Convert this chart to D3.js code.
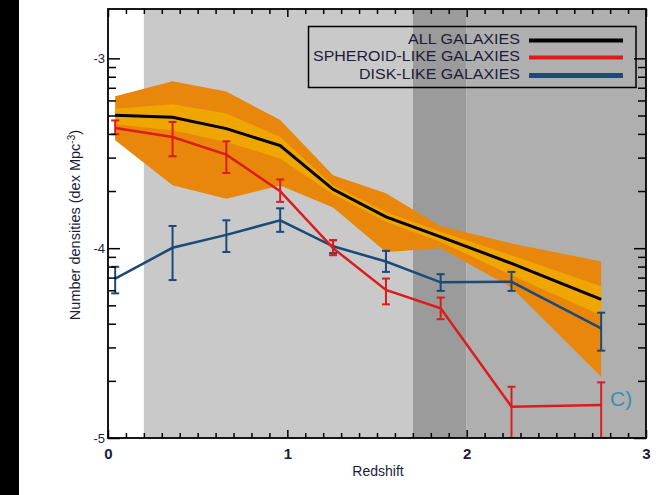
<!DOCTYPE html>
<html><head><meta charset="utf-8">
<script src="https://cdn.jsdelivr.net/npm/d3@7"></script>
<style>body{margin:0;background:#fff}svg{display:block}text{font-family:"Liberation Sans",Arial,sans-serif}</style>
</head><body>
<svg id="c" width="665" height="495"></svg>
<script>
const redshift = [0.04, 0.36, 0.66, 0.96, 1.255, 1.55, 1.855, 2.25, 2.75];
const allGal   = [-3.30, -3.31, -3.37, -3.46, -3.69, -3.835, -3.94, -4.08, -4.27];
const outerHi  = [-3.20, -3.12, -3.175, -3.325, -3.616, -3.71, -3.885, -3.975, -4.07];
const innerHi  = [-3.265, -3.242, -3.29, -3.414, -3.668, -3.809, -3.914, -4.037, -4.20];
const innerLo  = [-3.347, -3.379, -3.44, -3.528, -3.716, -3.861, -3.967, -4.142, -4.353];
const outerLo  = [-3.432, -3.668, -3.739, -3.67, -3.786, -4.02, -4.0, -4.207, -4.677];
const sphVal   = [-3.367, -3.414, -3.507, -3.70, -4.00, -4.22, -4.317, -4.835, -4.826];
const sphHi    = [-3.327, -3.335, -3.437, -3.638, -3.958, -4.16, -4.26, -4.73, -4.707];
const sphLo    = [-3.40, -3.516, -3.604, -3.756, -4.037, -4.296, -4.374, -5.0, -5.0];
const diskVal  = [-4.16, -3.998, -3.93, -3.853, -3.99, -4.07, -4.18, -4.177, -4.423];
const diskHi   = [-4.098, -3.883, -3.853, -3.79, -3.958, -4.014, -4.137, -4.125, -4.34];
const diskLo   = [-4.238, -4.168, -4.02, -3.914, -4.026, -4.125, -4.225, -4.225, -4.54];
const regionEdges = [0, 0.2, 1.7, 2.0, 3.0];
const regionColors = ["#ffffff", "#c9c9c9", "#9b9b9b", "#afafaf"];
const xMajor = [0, 1, 2, 3];
const yMajor = [-5, -4, -3];
const legendLabels = ["ALL GALAXIES", "SPHEROID-LIKE GALAXIES", "DISK-LIKE GALAXIES"];
const legendWidths = [112, 207, 161];
const seriesColors = ["#000000", "#dc1c1c", "#1b4a78"];

const svg = d3.select("#c");
const L = 108, R = 646, T = 9, B = 438;
const x = d3.scaleLinear([0, 3], [L, R]);
const y = d3.scaleLinear([-5, -2.74], [B, T]);

svg.append("rect").attr("x", 0).attr("y", 0).attr("width", 19).attr("height", 495).attr("fill", "#000");

svg.append("clipPath").attr("id", "clip").append("rect")
  .attr("x", L).attr("y", T).attr("width", R - L).attr("height", B - T);
const g = svg.append("g").attr("clip-path", "url(#clip)");

// background regions
regionColors.forEach((c, i) => {
  g.append("rect").attr("x", x(regionEdges[i])).attr("y", T)
    .attr("width", x(regionEdges[i + 1]) - x(regionEdges[i])).attr("height", B - T).attr("fill", c);
});

const idx = d3.range(redshift.length);
const area = (hi, lo) => d3.area().x(i => x(redshift[i])).y0(i => y(lo[i])).y1(i => y(hi[i]))(idx);
g.append("path").attr("d", area(outerHi, outerLo)).attr("fill", "#e8870c");
g.append("path").attr("d", area(innerHi, innerLo)).attr("fill", "#f0a600");

const line = vals => d3.line().x(i => x(redshift[i])).y(i => y(vals[i]))(idx);
g.append("path").attr("d", line(allGal)).attr("fill", "none").attr("stroke", "#000").attr("stroke-width", 3);

function series(vals, hi, lo, col) {
  g.append("path").attr("d", line(vals)).attr("fill", "none").attr("stroke", col).attr("stroke-width", 2.5);
  idx.forEach(i => {
    const xx = x(redshift[i]);
    g.append("line").attr("x1", xx).attr("x2", xx).attr("y1", y(hi[i])).attr("y2", y(lo[i]))
      .attr("stroke", col).attr("stroke-width", 2);
    [hi[i], lo[i]].forEach(v => g.append("line").attr("x1", xx - 4).attr("x2", xx + 4)
      .attr("y1", y(v)).attr("y2", y(v)).attr("stroke", col).attr("stroke-width", 2));
  });
}
series(diskVal, diskHi, diskLo, seriesColors[2]);
series(sphVal, sphHi, sphLo, seriesColors[1]);

// legend
const lg = svg.append("g");
lg.append("rect").attr("x", 308.5).attr("y", 26.5).attr("width", 327.5).attr("height", 61)
  .attr("fill", "none").attr("stroke", "#000").attr("stroke-width", 1.5);
const rowY = [40.5, 57.5, 75.5];
legendLabels.forEach((t, i) => {
  lg.append("text").attr("x", 520).attr("y", rowY[i] + 3.5).attr("text-anchor", "end")
    .attr("font-size", 15).attr("fill", "#1c1c3a").attr("textLength", legendWidths[i])
    .attr("lengthAdjust", "spacingAndGlyphs").text(t);
  lg.append("line").attr("x1", 529).attr("x2", 623).attr("y1", rowY[i]).attr("y2", rowY[i])
    .attr("stroke", seriesColors[i]).attr("stroke-width", i === 2 ? 5 : 4);
});

svg.append("text").attr("x", 610).attr("y", 406).attr("font-size", 21).attr("fill", "#3c8db0").text("C)");

// axes
const ax = (sel, gen) => { const a = svg.append("g").call(gen); a.select(".domain").remove(); a.selectAll("line").attr("stroke", "#000").attr("stroke-width", 1.5); return a; };
const xMinor = d3.range(1, 30).filter(k => k % 10 !== 0).map(k => k / 10);
const yMinor = [-5, -4].flatMap(b => d3.range(2, 10).map(k => b + Math.log10(k)));

const bot = ax(null, sel => sel.attr("transform", `translate(0,${B})`)
  .call(d3.axisBottom(x).tickValues(xMajor).tickSizeInner(-8).tickSizeOuter(0).tickPadding(10).tickFormat(d3.format("d"))));
bot.selectAll("text").attr("font-size", 15).attr("font-weight", "bold").attr("fill", "#1c1c3a").attr("font-family", "Liberation Sans");
ax(null, sel => sel.attr("transform", `translate(0,${B})`).call(d3.axisBottom(x).tickValues(xMinor).tickSize(-5).tickFormat("")));
ax(null, sel => sel.attr("transform", `translate(0,${T})`).call(d3.axisTop(x).tickValues(xMajor).tickSize(-8).tickFormat("")));
ax(null, sel => sel.attr("transform", `translate(0,${T})`).call(d3.axisTop(x).tickValues(xMinor).tickSize(-5).tickFormat("")));

const lft = ax(null, sel => sel.attr("transform", `translate(${L},0)`)
  .call(d3.axisLeft(y).tickValues(yMajor).tickSizeInner(-12).tickSizeOuter(0).tickPadding(3).tickFormat(d3.format("d"))));
lft.selectAll("text").attr("font-size", 13).attr("fill", "#1c1c3a").attr("font-family", "Liberation Sans").text(d => "-" + Math.abs(d));
ax(null, sel => sel.attr("transform", `translate(${L},0)`).call(d3.axisLeft(y).tickValues(yMinor).tickSize(-8).tickFormat("")));
ax(null, sel => sel.attr("transform", `translate(${R},0)`).call(d3.axisRight(y).tickValues(yMajor).tickSize(-12).tickFormat("")));
ax(null, sel => sel.attr("transform", `translate(${R},0)`).call(d3.axisRight(y).tickValues(yMinor).tickSize(-8).tickFormat("")));

svg.append("rect").attr("x", L).attr("y", T).attr("width", R - L).attr("height", B - T)
  .attr("fill", "none").attr("stroke", "#000").attr("stroke-width", 1.8);

svg.append("text").attr("x", 378).attr("y", 476).attr("text-anchor", "middle").attr("font-size", 14)
  .attr("fill", "#1c1c3a").text("Redshift");

const yl = svg.append("text").attr("transform", "translate(80,225) rotate(-90)").attr("text-anchor", "middle")
  .attr("font-size", 14.5).attr("fill", "#1c1c3a");
yl.append("tspan").text("Number densities (dex Mpc");
yl.append("tspan").attr("font-size", 10).attr("dy", -5).text("-3");
yl.append("tspan").attr("dy", 5).text(")");
</script>
</body></html>
